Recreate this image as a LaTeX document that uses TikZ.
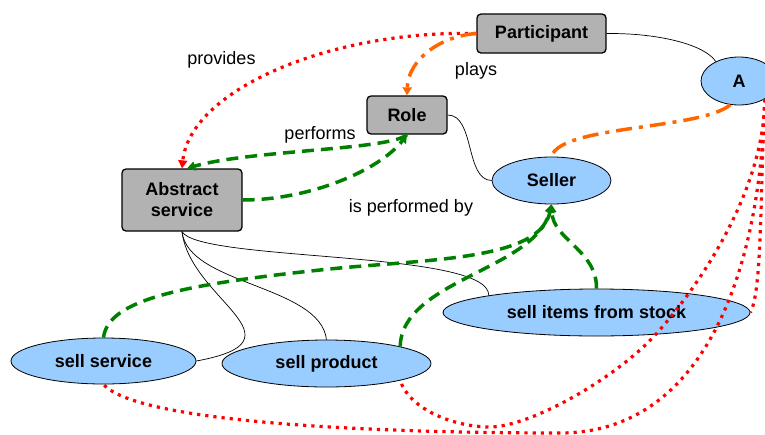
\documentclass[tikz,border=0pt]{standalone}
\usepackage{fontspec}
\setmainfont{Liberation Sans}
\usetikzlibrary{arrows.meta,shapes.geometric}
\definecolor{skyblue}{HTML}{99CCFF}
\definecolor{dkgreen}{HTML}{008000}
\definecolor{orng}{HTML}{FF6600}

\begin{document}
\begin{tikzpicture}[x=1pt, y=-1pt,
  lbl/.style={font=\fontsize{18}{21}\selectfont, inner sep=1pt},
  greyb/.style={rectangle, rounded corners=4pt, draw=black, line width=1.3pt, fill=gray!60, font=\fontsize{18}{21}\selectfont\bfseries, inner sep=0pt, align=center},
  bluev/.style={ellipse, draw=black, line width=0.8pt, fill=skyblue, font=\fontsize{18}{21}\selectfont\bfseries, inner sep=0pt},
  thinedge/.style={draw=black, line width=0.7pt},
  reddots/.style={draw=red, line width=3.2pt, dash pattern=on 3.2pt off 5pt},
  greendash/.style={draw=dkgreen, line width=3.5pt, dash pattern=on 12pt off 7pt},
  orangedot/.style={draw=orng, line width=3.5pt, dash pattern=on 16pt off 7pt on 4pt off 7pt},
  tipr/.style={-{Triangle[length=8pt,width=9pt]}}
]
\useasboundingbox (0,0) rectangle (765,434);

\node[greyb, minimum width=129pt, minimum height=39pt] (part) at (541.5,33.5) {Participant};
\node[greyb, minimum width=80pt, minimum height=38pt] (role) at (407,115) {Role};
\node[greyb, minimum width=120pt, minimum height=62pt] (abs) at (182,200) {Abstract\\service};
\node[bluev, minimum width=76pt, minimum height=48pt] (a) at (739,81) {A};
\node[bluev, minimum width=119pt, minimum height=47pt] (seller) at (551.5,180.5) {Seller};
\node[bluev, minimum width=307pt, minimum height=47pt] (stock) at (596.5,312.5) {sell items from stock};
\node[bluev, minimum width=185pt, minimum height=46pt] (sserv) at (103.5,361) {sell service};
\node[bluev, minimum width=209pt, minimum height=47pt] (sprod) at (326.5,363.5) {sell product};

\draw[thinedge] (part.east) .. controls (660,33) and (705,45) .. (a.140);
\draw[thinedge] (role.east) .. controls (475,115) and (465,180) .. (seller.west);
\draw[thinedge] (abs.south) .. controls (190,300) and (310,340) .. (sserv.east);
\draw[thinedge] (abs.south) .. controls (188,285) and (320,285) .. (sprod.north);
\draw[thinedge] (abs.south) .. controls (200,262) and (490,250) .. (stock.171);
\draw[reddots, tipr] (part.west) .. controls (330,30) and (190,90) .. (abs.north);
\draw[orangedot, tipr] (part.west) .. controls (440,36) and (408,60) .. (role.north);
\draw[greendash, tipr] (role.south) .. controls (390,150) and (250,150) .. ([xshift=5pt]abs.north);
\draw[greendash, tipr] (abs.east) .. controls (310,200) and (380,170) .. (role.south);
\draw[orangedot] (a.250) .. controls (700,130) and (560,125) .. (seller.north);
\draw[greendash, tipr] (sserv.north) .. controls (108,300) and (180,285) .. (320,270) .. controls (420,259) and (540,262) .. (seller.south);
\draw[greendash, tipr] (sprod.13) .. controls (402,280) and (535,270) .. (seller.south);
\draw[greendash, tipr] (stock.north) .. controls (597,250) and (553,240) .. (seller.south);
\draw[reddots] (a.325) .. controls (760,200) and (762,290) .. (stock.east);
\draw[reddots] (a.325) .. controls (764,190) and (700,285) .. (657,333) .. controls (617,378) and (530,427) .. (490,427) .. controls (455,427) and (410,410) .. (sprod.-13);
\draw[reddots] (a.325) .. controls (760,280) and (700,433) .. (560,433) .. controls (400,433) and (140,425) .. (sserv.south);
\node[lbl] (lprov) at (221.5,60) {provides};
\node[lbl] (lplays) at (476,71) {plays};
\node[lbl] (lperf) at (320,135) {performs};
\node[lbl] (lperfby) at (411,208) {is performed by};

\end{tikzpicture}
\end{document}
